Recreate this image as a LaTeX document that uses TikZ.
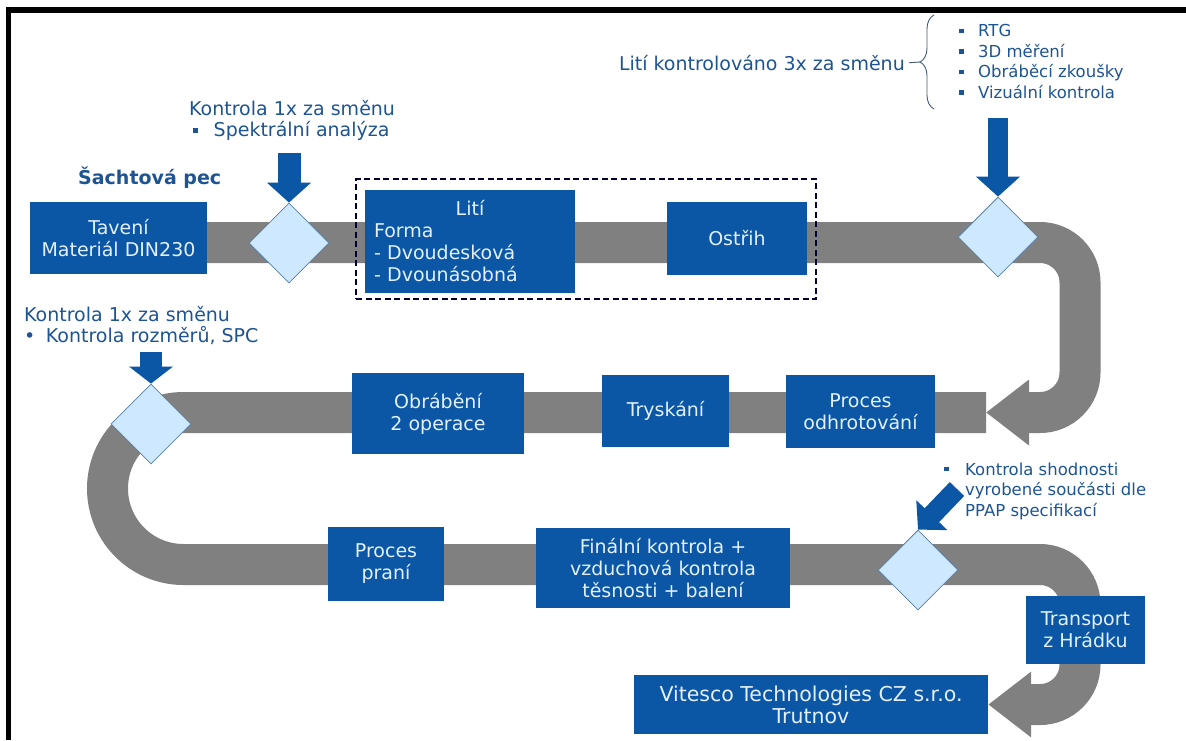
\documentclass[tikz,border=0pt]{standalone}
\usepackage{fontspec}
\setmainfont{DejaVu Sans}
\usepackage{xcolor}
\usepackage{tikz}
\usetikzlibrary{positioning, arrows.meta, shapes.geometric, backgrounds, decorations.pathreplacing}

\definecolor{boxblue}{RGB}{11,86,165}
\definecolor{boxtext}{RGB}{226,240,255}
\definecolor{lblblue}{RGB}{30,84,146}
\definecolor{chkfill}{RGB}{206,232,255}
\definecolor{chkline}{RGB}{88,128,168}
\definecolor{bandgrey}{RGB}{128,128,128}
\definecolor{bracecol}{RGB}{70,90,120}

\newcommand{\sqb}{\rule[0.22em]{4.5pt}{4.5pt}}

\begin{document}
\begin{tikzpicture}[
  x=1pt, y=-1pt,
  font=\fontsize{19}{22}\selectfont,
  proc/.style={fill=boxblue, text=boxtext, align=center, inner sep=0pt},
  chk/.style={diamond, draw=chkline, line width=0.8pt, fill=chkfill,
              minimum width=80pt, minimum height=80pt, inner sep=0pt},
  lbl/.style={text=lblblue, align=left, inner sep=0pt, anchor=west,
              font=\fontsize{19}{21.5}\selectfont},
  lblsm/.style={lbl, font=\fontsize{16.5}{20.5}\selectfont},
  grpbox/.style={draw=black!80!blue, line width=2pt, dash pattern=on 6pt off 3.5pt},
  band/.style={draw=bandgrey, line width=41pt},
  bandend/.style={band, -{Triangle[width=63pt, length=43pt]}},
  push/.style={draw=boxblue, -{Triangle[width=43pt, length=20pt]}},
  brc/.style={draw=bracecol, line width=0.9pt}
]
\useasboundingbox (0,0) rectangle (1186,740);
% frame
\draw[line width=5.5pt] (8.5,740) -- (8.5,10) -- (1186,10);
% row 1
\node[proc, minimum width=177pt, minimum height=72pt] (tav) at (118.5,238) {Tavení\\Materiál DIN230};
\node[chk] (d1) at (289,243) {};
\node[proc, minimum width=210pt, minimum height=103pt, text width=192pt, align=left] (liti) at (470,241.5)
  {\hspace*{\fill}Lití\hspace*{\fill}\null\\Forma\\- Dvoudesková\\- Dvounásobná};
\node[proc, minimum width=140pt, minimum height=73pt] (ostr) at (737,238.5) {Ostřih};
\node[grpbox, minimum width=460pt, minimum height=120pt] (grp) at (586,239) {};
\node[chk] (d2) at (998,237) {};
% row 2
\node[chk] (d3) at (151,424) {};
\node[proc, minimum width=172pt, minimum height=81pt] (obr) at (438,413.5) {Obrábění\\2 operace};
\node[proc, minimum width=127pt, minimum height=72pt] (trys) at (665.5,411) {Tryskání};
\node[proc, minimum width=149pt, minimum height=73pt] (odhr) at (860.5,411.5) {Proces\\odhrotování};
% row 3
\node[proc, minimum width=116pt, minimum height=74pt] (prani) at (386,564) {Proces\\praní};
\node[proc, minimum width=254pt, minimum height=80pt] (fin) at (663,568)
  {Finální kontrola +\\vzduchová kontrola\\těsnosti + balení};
\node[chk] (d4) at (918,570) {};
\node[proc, minimum width=119pt, minimum height=68pt] (trans) at (1085.5,630) {Transport\\z Hrádku};
\node[proc, minimum width=354pt, minimum height=59pt, font=\fontsize{20.5}{22}\selectfont] (vit) at (811,704.5)
  {Vitesco Technologies CZ s.r.o.\\Trutnov};
% labels
\node[lbl, font=\fontsize{19}{22}\selectfont\bfseries] (pec) at (78,178) {Šachtová pec};
\node[lbl] (k1) at (189,120.5) {Kontrola 1x za směnu\\\hspace*{4pt}\sqb\hspace*{16pt}Spektrální analýza};
\node[lbl] (k3) at (24,325.5) {Kontrola 1x za směnu\\•\hspace*{10.5pt}Kontrola rozměrů, SPC};
\node[lbl, anchor=east] (lk) at (905,63) {Lití kontrolováno 3x za směnu};
\node[lblsm] (insp) at (959,61.5) {\sqb\hspace*{14.5pt}RTG\\\sqb\hspace*{14.5pt}3D měření\\
  \sqb\hspace*{14.5pt}Obráběcí zkoušky\\\sqb\hspace*{14.5pt}Vizuální kontrola};
\node[lblsm] (ppap) at (944,491) {\sqb\hspace*{16.5pt}Kontrola shodnosti\\
  \hspace*{21pt}vyrobené součásti dle\\\hspace*{21pt}PPAP specifikací};
% brace
\coordinate (brtop) at (934,15);
\coordinate (brbot) at (934,109);
\coordinate (brtip) at (920,62);
\draw[brc, decorate, decoration={brace, amplitude=14pt}] (brbot) -- (brtop);
\draw[brc, shorten <=4pt] (lk.east) -- (brtip);
% grey band
\coordinate (s1) at (118,242.5);
\coordinate (c1) at (1080,242.5);
\coordinate (c2) at (1080,412.5);
\coordinate (e2) at (986,412.5);
\coordinate (u1) at (107.5,412.5);
\coordinate (u2) at (107.5,564.5);
\coordinate (c3) at (1080,564.5);
\begin{pgfonlayer}{background}
\draw[bandend, rounded corners=40pt] (s1) -- (c1) -- (c2) -- (e2);
\draw[band, rounded corners=76pt] (e2) -- (u1) -- (u2) -- (u2 -| d4);
\draw[bandend, rounded corners=40pt] (u2 -| d4) -- (c3) -- (c3 |- vit.east) -- (vit.east);
\end{pgfonlayer}
% inspection arrows
\coordinate (a1) at (289,153);
\coordinate (a2) at (998,118);
\coordinate (a3) at (151,352);
\coordinate (a4) at (957,489);
\draw[push, line width=23pt] (a1) -- (d1.north);
\draw[push, line width=20pt] (a2) -- (d2.north);
\draw[push, line width=22pt, -{Triangle[width=43pt, length=17pt]}] (a3) -- (d3.north);
\draw[push, line width=20pt, -{Triangle[width=42pt, length=20pt]}] (a4) -- (d4.north);
\end{tikzpicture}
\end{document}
